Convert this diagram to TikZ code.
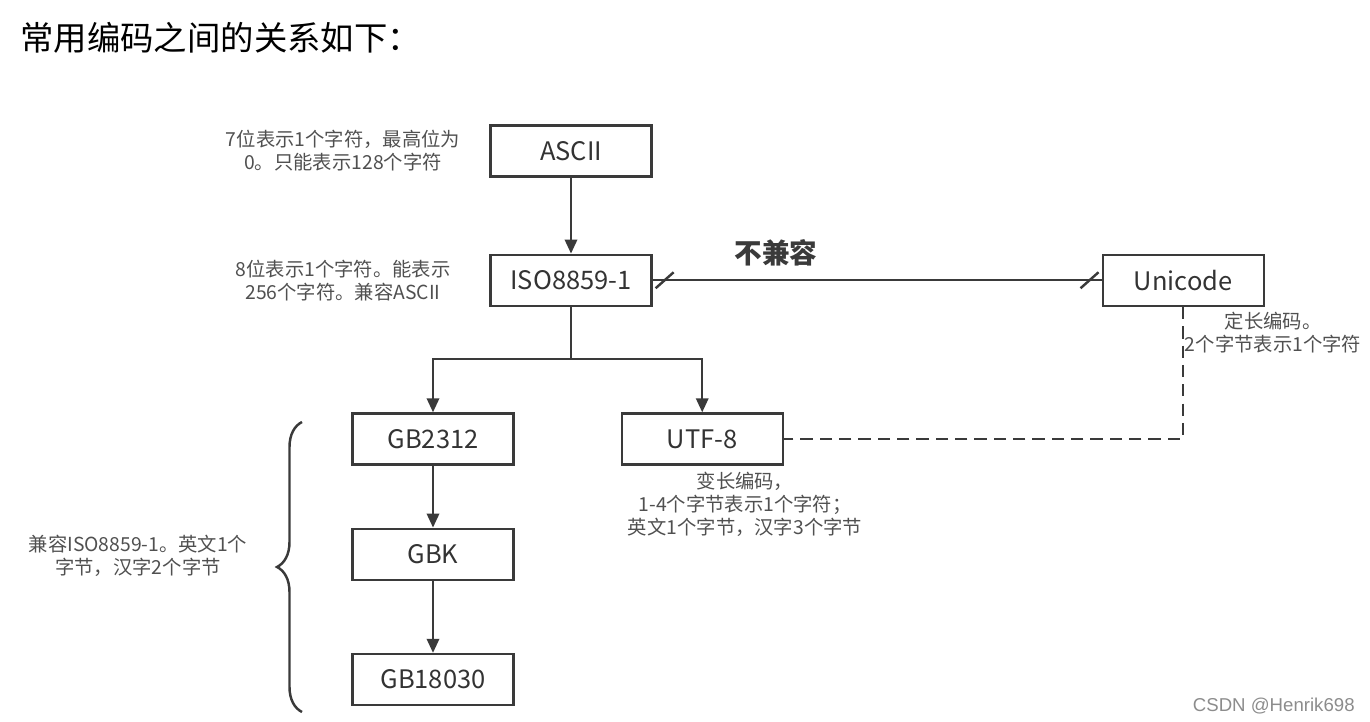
\documentclass[tikz,border=0pt]{standalone}
\usepackage{fontspec}
\setmainfont{Noto Sans CJK SC}
\newfontfamily\markfont{Liberation Sans}
\usetikzlibrary{arrows.meta,calc,positioning,decorations.pathreplacing}

\definecolor{linegray}{HTML}{3A3A3A}
\definecolor{notegray}{HTML}{505050}

\begin{document}
\begin{tikzpicture}[x=0.02cm, y=-0.02cm,
  box/.style={rectangle, draw=linegray, line width=1.3pt, minimum width=3.22cm,
    minimum height=1.02cm, inner sep=0pt, text=black!80,
    font=\fontsize{14.5}{17}\selectfont},
  note/.style={align=center, text=notegray, inner sep=0pt,
    font=\fontsize{11}{13}\selectfont},
  line/.style={draw=linegray, line width=1.4pt},
  arrow/.style={line, -{Triangle[length=8pt, width=7pt]}},
  dashline/.style={line, dash pattern=on 7pt off 4pt}
  ]
  \useasboundingbox (0,0) rectangle (1370,722);

  \node[anchor=west, inner sep=0pt, font=\fontsize{19}{22}\selectfont] (title) at (20,38) {常用编码之间的关系如下：};

  \node[box] (ascii) at (571,151) {ASCII};
  \node[box, below=1.52cm of ascii] (iso) {ISO8859-1};
  \node[box, right=8.98cm of iso] (uni) {Unicode};
  \node[box] (gb2312) at (433,439) {GB2312};
  \node[box, below=1.24cm of gb2312] (gbk) {GBK};
  \node[box, below=1.44cm of gbk] (gb18030) {GB18030};
  \node[box, right=2.12cm of gb2312] (utf8) {UTF-8};

  % notes
  \node[note] (asciinote) at (343,151) {7位表示1个字符，最高位为\\0。只能表示128个字符};
  \node[note] (isonote) at (343,281) {8位表示1个字符。能表示\\256个字符。兼容ASCII};
  \node[note] (uninote) at (1273,333) {定长编码。\\2个字节表示1个字符};
  \node[note] (utfnote) at (745,504) {变长编码，\\1-4个字节表示1个字符；\\英文1个字节，汉字3个字节};
  \node[note] (gbnote) at (138,556) {兼容ISO8859-1。英文1个\\字节，汉字2个字节};
  \node[inner sep=0pt, text=linegray, font=\bfseries\fontsize{15.7}{18}\selectfont] (incomp) at (776,253) {不兼容};

  \draw[arrow] (ascii) -- (iso);
  \draw[line] (iso.south) -- ++(0,52) coordinate (split);
  \draw[arrow] (split) -| (gb2312.north);
  \draw[arrow] (split) -| (utf8.north);
  \draw[arrow] (gb2312) -- (gbk);
  \draw[arrow] (gbk) -- (gb18030);

  \draw[line] (iso.east) -- (uni.west);
  \draw[line] ($(iso.east)+(3,8)$) -- ++(18,-16);
  \draw[line] ($(uni.west)+(-21,8)$) -- ++(18,-16);

  \draw[dashline] (uni.south) |- (utf8.east);

  \draw[line, decorate, decoration={brace, amplitude=0.5cm}] (302,712) -- (302,422);

  \node[anchor=east, inner sep=0pt, text=black!45, font=\markfont\fontsize{10.6}{12}\selectfont] (mark) at (1355,706) {CSDN @Henrik698};
\end{tikzpicture}
\end{document}
